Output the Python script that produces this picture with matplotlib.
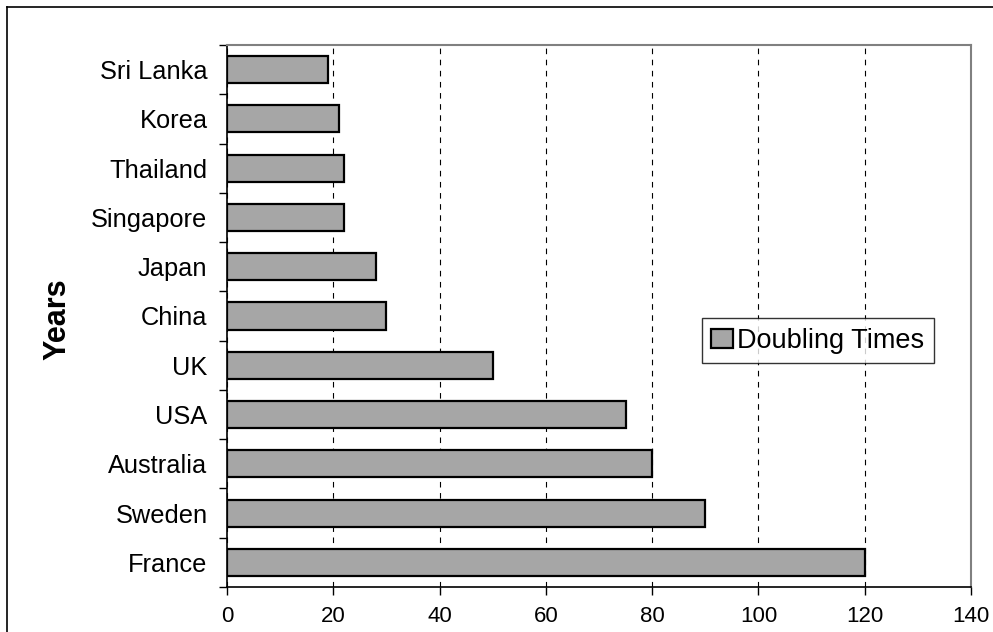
import matplotlib.pyplot as plt
import numpy as np
from matplotlib.lines import Line2D

# Данные (снизу вверх)
countries = ["France", "Sweden", "Australia", "USA", "UK", "China",
             "Japan", "Singapore", "Thailand", "Korea", "Sri Lanka"]
doubling_times = [120, 90, 80, 75, 50, 30, 28, 22, 22, 21, 19]
x_ticks = [0, 20, 40, 60, 80, 100, 120, 140]

plt.rcParams['font.family'] = ['Liberation Sans', 'DejaVu Sans']

fig = plt.figure(figsize=(9.93, 6.32), dpi=100)
ax = fig.add_axes([227 / 993, 1 - 587 / 632, 744 / 993, 542 / 632])

pos = np.arange(len(countries))
ax.barh(pos, doubling_times, height=0.55, color='#a6a6a6',
        edgecolor='black', linewidth=1.6, label='Doubling Times', zorder=3)

# Пунктирная сетка
ax.set_axisbelow(True)
ax.xaxis.grid(True, linestyle=(0, (5, 5)), color='black', linewidth=0.8)

ax.set_xlim(0, 140)
ax.set_ylim(-0.5, len(countries) - 0.5)
ax.set_xticks(x_ticks)
ax.set_yticks(pos)
ax.set_yticklabels(countries)
ax.set_yticks(np.arange(-0.5, len(countries)), minor=True)

ax.tick_params(axis='y', which='major', length=0, pad=14, labelsize=18.3)
ax.tick_params(axis='y', which='minor', length=6, width=1, direction='out')
ax.tick_params(axis='x', length=6, width=1, direction='out', pad=8, labelsize=16)

ax.set_ylabel("Years", fontsize=22, fontweight='bold')
ax.yaxis.set_label_coords(-0.208, 0.494)

# Рамки
ax.spines['top'].set_color('#808080')
ax.spines['right'].set_color('#808080')
ax.spines['top'].set_linewidth(1.5)
ax.spines['right'].set_linewidth(1.5)
ax.spines['left'].set_linewidth(1.2)
ax.spines['bottom'].set_linewidth(1.2)

leg = ax.legend(loc='center', bbox_to_anchor=(0.794, 0.454), fontsize=19.5,
                frameon=True, fancybox=False, edgecolor='black',
                handlelength=0.8, handleheight=0.75, handletextpad=0.15,
                borderpad=0.35, borderaxespad=0)
leg.get_frame().set_linewidth(1.0)

# Внешняя рамка рисунка
fig.add_artist(Line2D([7 / 993, 7 / 993], [1 - 7 / 632, 0], color='black',
                      linewidth=1.2, transform=fig.transFigure))
fig.add_artist(Line2D([7 / 993, 1], [1 - 7 / 632, 1 - 7 / 632], color='black',
                      linewidth=1.2, transform=fig.transFigure))

plt.savefig("out.png", dpi=100)
plt.close()
